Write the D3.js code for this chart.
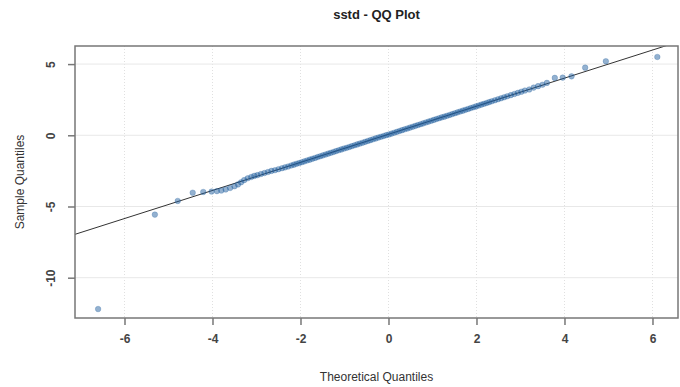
<!DOCTYPE html>
<html><head><meta charset="utf-8">
<script src="https://cdn.jsdelivr.net/npm/d3@7"></script>
<style>body{margin:0;background:#fff}svg{display:block}</style>
</head><body>
<script>
const title = "sstd - QQ Plot";
const xLabel = "Theoretical Quantiles";
const yLabel = "Sample Quantiles";
const xTicks = [-6,-4,-2,0,2,4,6];
const yTicks = [5,0,-5,-10];
const theoretical = [-6.60,-5.31,-4.79,-4.45,-4.21,-4.02,-3.90,-3.80,-3.70,-3.60,-3.50,-3.42,-3.35,-3.28,-3.20,-3.12,-3.05,-2.98,-2.90,-2.82,-2.74,-2.66,
 -2.58,-2.50,-2.42,-2.35,-2.28,-2.21,-2.15,-2.09,-2.03,-1.97,-1.91,-1.85,-1.79,-1.73,-1.67,-1.61,-1.55,-1.49,-1.43,-1.37,-1.31,-1.25,-1.19,-1.13,-1.07,-1.01,-0.95,-0.89,-0.83,-0.77,-0.71,-0.65,-0.59,-0.53,-0.47,-0.41,-0.35,-0.29,-0.23,-0.17,-0.11,-0.05,
 0.01,0.07,0.13,0.19,0.25,0.31,0.37,0.43,0.49,0.55,0.61,0.67,0.73,0.79,0.85,0.91,0.97,1.03,1.09,1.15,1.21,1.27,1.33,1.39,1.45,1.51,1.57,1.63,1.69,1.75,1.81,1.87,1.93,1.99,2.05,2.11,2.17,2.23,2.29,2.35,2.42,2.49,2.56,2.63,2.70,2.78,2.86,2.94,3.02,3.10,
 3.20,3.30,3.40,3.50,3.60,3.78,3.96,4.16,4.47,4.94,6.11];
const sample = [-12.20,-5.57,-4.61,-4.03,-3.98,-3.95,-3.92,-3.88,-3.80,-3.70,-3.58,-3.45,-3.30,-3.15,-3.02,-2.93,-2.85,-2.80,-2.72,-2.65,-2.58,-2.50,
 -2.45,-2.38,-2.31,-2.25,-2.19,-2.12,-2.06,-2.00,-1.95,-1.89,-1.83,-1.77,-1.71,-1.65,-1.59,-1.53,-1.47,-1.41,-1.35,-1.29,-1.23,-1.17,-1.11,-1.05,-0.99,-0.93,-0.88,-0.82,-0.76,-0.70,-0.64,-0.58,-0.52,-0.46,-0.40,-0.34,-0.28,-0.22,-0.16,-0.10,-0.05,0.01,
 0.06,0.12,0.18,0.24,0.30,0.36,0.42,0.48,0.54,0.60,0.66,0.72,0.78,0.84,0.90,0.96,1.02,1.08,1.14,1.20,1.26,1.31,1.37,1.43,1.49,1.55,1.61,1.67,1.73,1.79,1.85,1.91,1.97,2.03,2.09,2.15,2.21,2.27,2.33,2.39,2.46,2.53,2.60,2.67,2.74,2.82,2.90,2.98,3.06,3.14,
 3.22,3.35,3.45,3.55,3.68,4.03,4.05,4.14,4.75,5.20,5.50];
const refLine = {slope: 0.986, intercept: 0.07};

const W = 680, H = 387;
const m = {left: 75, right: 2, top: 46, bottom: 69};
const svg = d3.select("body").append("svg").attr("width", W).attr("height", H);
const x = d3.scaleLinear().domain([-7.125, 6.58]).range([m.left, W - m.right]);
const y = d3.scaleLinear().domain([-12.83, 6.27]).range([H - m.bottom, m.top]);
const font = "Liberation Sans, Arial, sans-serif";

svg.append("defs").append("clipPath").attr("id","clip").append("rect")
  .attr("x", m.left).attr("y", m.top).attr("width", W - m.right - m.left).attr("height", H - m.bottom - m.top);

// grid
const g = svg.append("g");
g.selectAll(".gx").data(xTicks).join("line")
  .attr("x1", d => x(d)).attr("x2", d => x(d)).attr("y1", m.top).attr("y2", H - m.bottom)
  .attr("stroke", "#e0e0e0").attr("stroke-dasharray", "1,2");
g.selectAll(".gy").data(yTicks).join("line")
  .attr("y1", d => y(d)).attr("y2", d => y(d)).attr("x1", m.left).attr("x2", W - m.right)
  .attr("stroke", "#e8e8e8");

// reference line
const xd = x.domain();
svg.append("line").attr("clip-path", "url(#clip)")
  .attr("x1", x(xd[0])).attr("y1", y(refLine.slope * xd[0] + refLine.intercept))
  .attr("x2", x(xd[1])).attr("y2", y(refLine.slope * xd[1] + refLine.intercept))
  .attr("stroke", "#333").attr("stroke-width", 1);

// points
const pts = theoretical.map((t, i) => [t, sample[i]]);
svg.append("g").attr("clip-path", "url(#clip)").selectAll("circle").data(pts).join("circle")
  .attr("cx", d => x(d[0])).attr("cy", d => y(d[1])).attr("r", 2.8)
  .attr("fill", "#1d5c9c").attr("fill-opacity", 0.48)
  .attr("stroke", "#1d5c9c").attr("stroke-opacity", 0.3).attr("stroke-width", 0.8);

// box
svg.append("rect").attr("x", m.left).attr("y", m.top)
  .attr("width", W - m.right - m.left).attr("height", H - m.bottom - m.top)
  .attr("fill", "none").attr("stroke", "#777").attr("stroke-width", 1.5);

// axes
const fmt = d => String(d);
const xa = svg.append("g").attr("transform", `translate(0,${H - m.bottom})`)
  .call(d3.axisBottom(x).tickValues(xTicks).tickSize(7).tickPadding(9).tickFormat(fmt));
xa.select(".domain").remove();
xa.selectAll("line").attr("stroke", "#777").attr("stroke-width", 1.5);
xa.selectAll("text").attr("font-family", font).attr("font-size", 12).attr("font-weight", "bold").attr("fill", "#444");

const ya = svg.append("g").attr("transform", `translate(${m.left},0)`)
  .call(d3.axisLeft(y).tickValues(yTicks).tickSize(7).tickFormat(fmt));
ya.select(".domain").remove();
ya.selectAll("line").attr("stroke", "#777").attr("stroke-width", 1.5);
ya.selectAll("text").attr("font-family", font).attr("font-size", 12).attr("font-weight", "bold").attr("fill", "#444")
  .attr("x", 0).attr("dy", 0).attr("text-anchor", "middle")
  .attr("transform", "translate(-20,0) rotate(-90)");

// title and labels
svg.append("text").attr("x", (m.left + W - m.right) / 2).attr("y", 19).attr("text-anchor", "middle")
  .attr("font-family", font).attr("font-size", 13).attr("font-weight", "bold").attr("fill", "#222").text(title);
svg.append("text").attr("x", (m.left + W - m.right) / 2).attr("y", 381).attr("text-anchor", "middle")
  .attr("font-family", font).attr("font-size", 12).attr("fill", "#333").text(xLabel);
svg.append("text").attr("transform", `translate(24,${(m.top + H - m.bottom) / 2}) rotate(-90)`).attr("text-anchor", "middle")
  .attr("font-family", font).attr("font-size", 12).attr("fill", "#333").text(yLabel);
</script>
</body></html>
